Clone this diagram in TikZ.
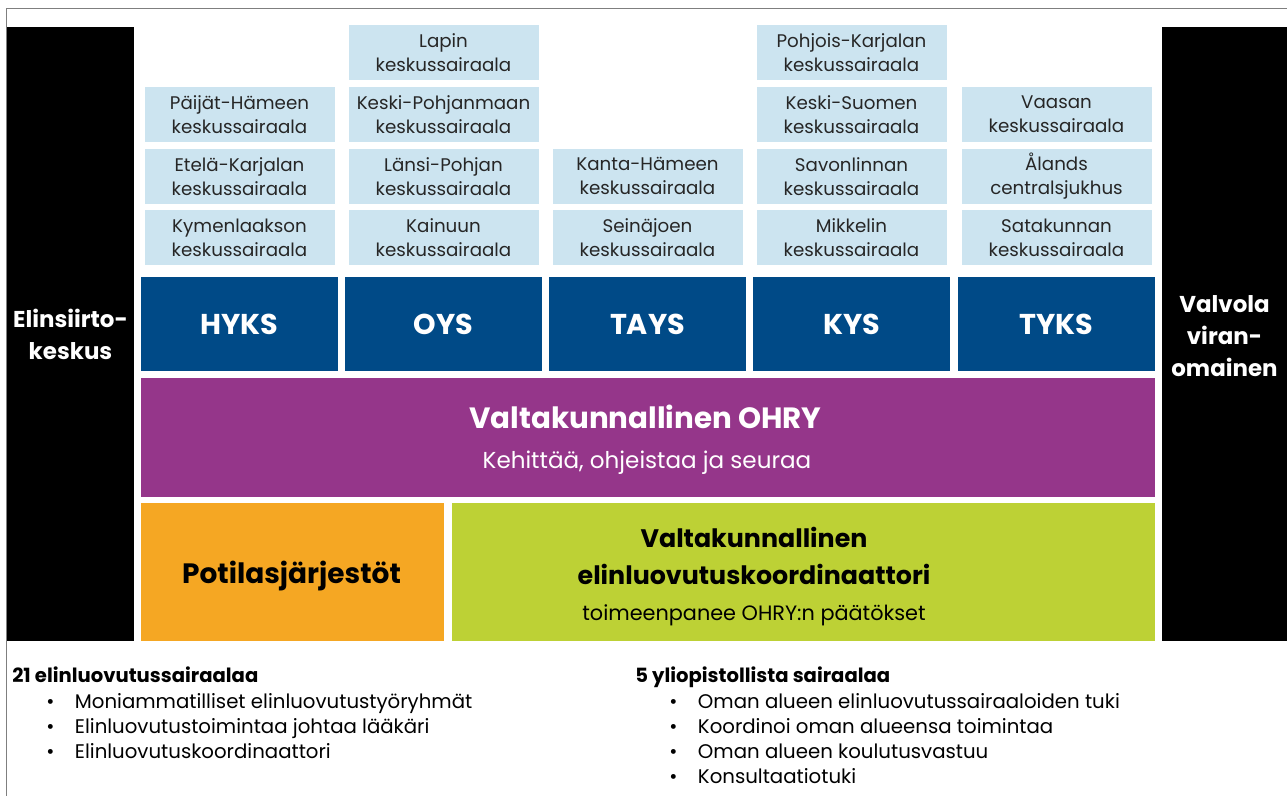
\documentclass[tikz,border=0pt]{standalone}
\usepackage{fontspec}
\setmainfont{Poppins}
\usetikzlibrary{positioning}

\definecolor{vSairaala}{RGB}{204,228,240}
\definecolor{vYliopisto}{RGB}{0,74,135}
\definecolor{vOhry}{RGB}{149,54,138}
\definecolor{vPotilas}{RGB}{245,167,35}
\definecolor{vKoord}{RGB}{189,209,53}
\definecolor{vKehys}{RGB}{127,127,127}

\newcommand{\ks}[1]{#1\\keskussairaala}

\tikzset{
  laatikko/.style={inner sep=0pt, align=center},
  sairaala/.style={laatikko, fill=vSairaala, text=black!85,
    minimum width=142.5pt, minimum height=41.25pt,
    font=\fontsize{13.7}{18}\selectfont},
  yliopisto/.style={laatikko, fill=vYliopisto, text=white,
    minimum width=147.75pt, minimum height=70.5pt,
    font=\fontsize{21.5}{24}\selectfont\bfseries},
  sivu/.style={laatikko, fill=black, minimum height=460.5pt},
  sivuteksti/.style={laatikko, text=white, font=\fontsize{17.2}{24}\selectfont\bfseries},
  otsikko/.style={inner sep=0pt, font=\fontsize{22}{27.75}\selectfont\bfseries},
  leipa/.style={inner sep=0pt, font=\fontsize{15.6}{18}\selectfont},
  kohta/.style={inner sep=0pt, anchor=base west, font=\fontsize{14.8}{18}\selectfont}
}

\begin{document}
\begin{tikzpicture}[x=0.75pt,y=-0.75pt]
  \useasboundingbox (0,0) rectangle (1287,796);
  \draw[vKehys, line width=1pt] (1287,8.5) -- (6.5,8.5) -- (6.5,796);

  % sivut
  \node[sivu, minimum width=95.25pt] (els) at (70.5,334) {};
  \node[sivu, minimum width=93.75pt] (valvira) at (1224.5,334) {};
  \node[sivuteksti] (els-t) at (70.5,334) {Elinsiirto-\\keskus};
  \node[sivuteksti] (valvira-t) at (1224.5,336) {Valvola\\viran-\\omainen};

  % yliopistolliset sairaalat ja niiden alueet
  \foreach \u/\x/\lista in {
      HYKS/239.5/{\ks{Kymenlaakson},\ks{Etelä-Karjalan},\ks{Päijät-Hämeen}},
      OYS/443.5/{\ks{Kainuun},\ks{Länsi-Pohjan},\ks{Keski-Pohjanmaan},\ks{Lapin}},
      TAYS/647.5/{\ks{Seinäjoen},\ks{Kanta-Hämeen}},
      KYS/851.5/{\ks{Mikkelin},\ks{Savonlinnan},\ks{Keski-Suomen},\ks{Pohjois-Karjalan}},
      TYKS/1056.5/{\ks{Satakunnan},Ålands\\centralsjukhus,\ks{Vaasan}}}{
    \node[yliopisto] (\u) at (\x,324) {\u};
    \foreach \s [count=\i] in \lista
      \node[sairaala, anchor=south] (\u-\i) at ([yshift={8.25pt+(\i-1)*46.25pt}]\u.north) {\s};
  }

  % OHRY
  \node[laatikko, fill=vOhry, minimum width=760.5pt, minimum height=89.25pt] (ohry) at (648,437.5) {};
  \node[otsikko, text=white, anchor=base] (ohry-t) at (645.5,428) {Valtakunnallinen OHRY};
  \node[leipa, text=white, anchor=base, font=\fontsize{17.3}{20}\selectfont] (ohry-s) at (647,468) {Kehittää, ohjeistaa ja seuraa};

  \node[laatikko, fill=vPotilas, minimum width=227.25pt, minimum height=103.5pt] (potilas) at (292.5,572) {};
  \node[otsikko, anchor=base, font=\fontsize{21}{24}\selectfont\bfseries] (potilas-t) at (291.5,583) {Potilasjärjestöt};

  \node[laatikko, fill=vKoord, minimum width=527.25pt, minimum height=103.5pt] (koord) at (803.5,572) {};
  \node[otsikko, anchor=base, font=\fontsize{19}{24}\selectfont\bfseries] (koord-t1) at (754,547) {Valtakunnallinen};
  \node[otsikko, anchor=base, font=\fontsize{19}{24}\selectfont\bfseries] (koord-t2) at (754,584) {elinluovutuskoordinaattori};
  \node[leipa, anchor=base] (koord-s) at (754,620) {toimeenpanee OHRY:n päätökset};

  % alaosan luettelot
  \node[kohta, font=\fontsize{14.7}{18}\selectfont\bfseries] (vas) at (12,682) {21 elinluovutussairaalaa};
  \foreach \t [count=\i] in {Moniammatilliset elinluovutustyöryhmät,
      Elinluovutustoimintaa johtaa lääkäri, Elinluovutuskoordinaattori}
    \node[kohta] (vas-\i) at (46,683+25*\i) {\makebox[21.5pt][l]{\textbullet}\t};

  \node[kohta, font=\fontsize{14.7}{18}\selectfont\bfseries] (oik) at (635,682) {5 yliopistollista sairaalaa};
  \foreach \t [count=\i] in {Oman alueen elinluovutussairaaloiden tuki,
      Koordinoi oman alueensa toimintaa, Oman alueen koulutusvastuu, Konsultaatiotuki}
    \node[kohta] (oik-\i) at (669,683+25*\i) {\makebox[21.5pt][l]{\textbullet}\t};
\end{tikzpicture}
\end{document}
